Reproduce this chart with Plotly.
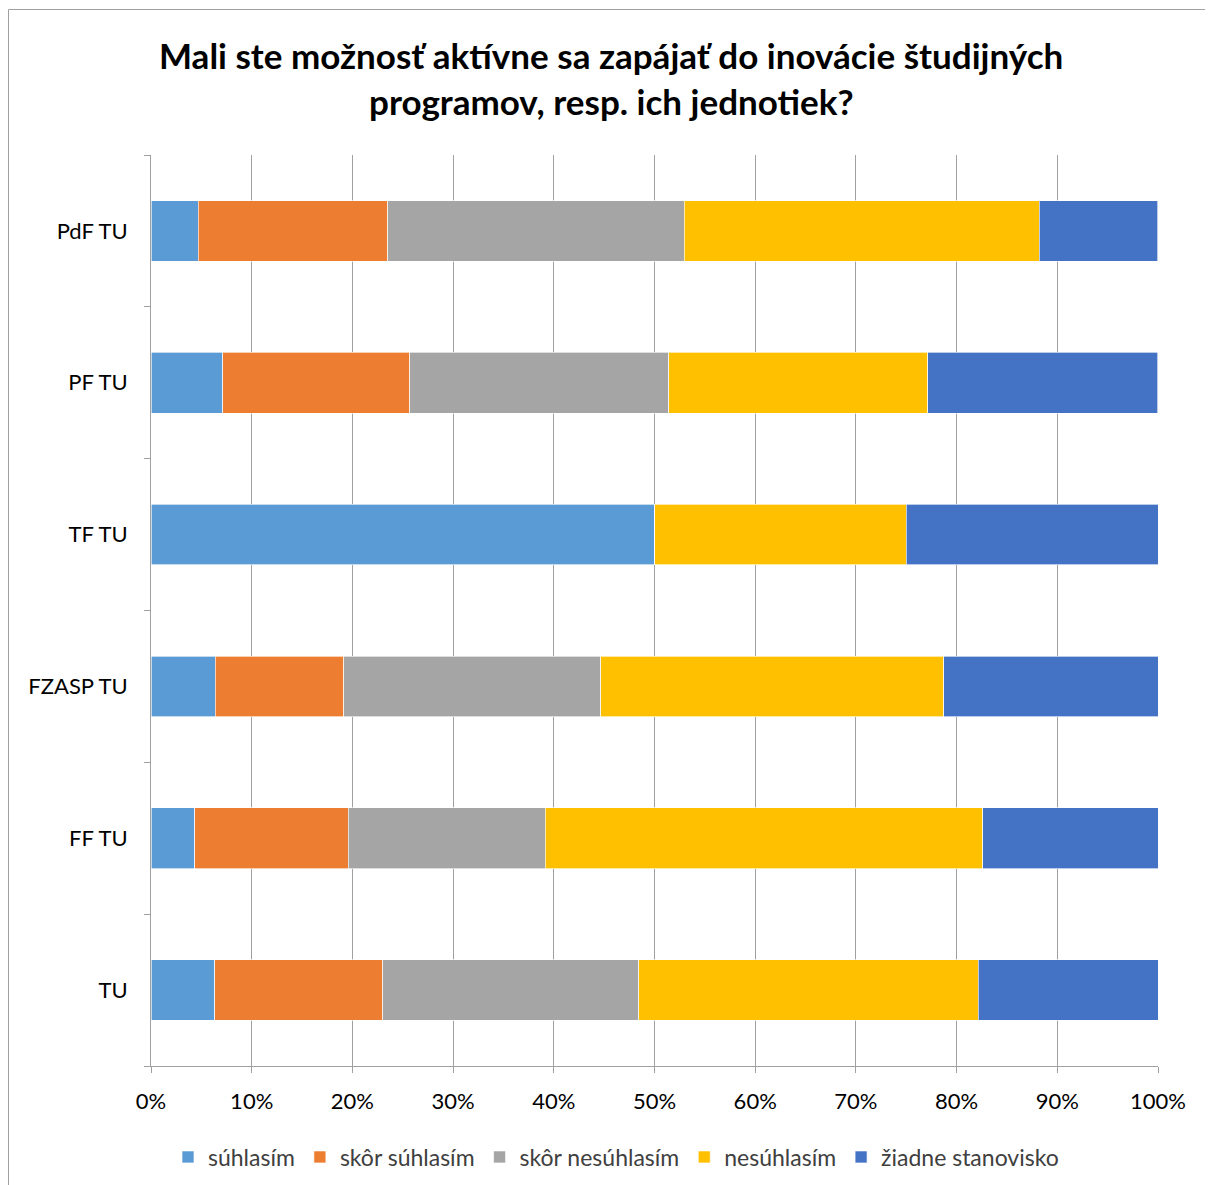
import plotly.graph_objects as go

categories = ["PdF TU", "PF TU", "TF TU", "FZASP TU", "FF TU", "TU"]
series_names = ["súhlasím", "skôr súhlasím", "skôr nesúhlasím", "nesúhlasím", "žiadne stanovisko"]
suhlasim = [4.71, 7.14, 50.0, 6.38, 4.35, 6.35]
skor_suhlasim = [18.82, 18.57, 0.0, 12.77, 15.22, 16.67]
skor_nesuhlasim = [29.41, 25.71, 0.0, 25.53, 19.57, 25.40]
nesuhlasim = [35.29, 25.71, 25.0, 34.04, 43.48, 33.73]
ziadne = [11.76, 22.86, 25.0, 21.28, 17.39, 17.86]
colors = ["#5B9BD5", "#ED7D31", "#A5A5A5", "#FFC000", "#4472C4"]
x_ticks = [0, 10, 20, 30, 40, 50, 60, 70, 80, 90, 100]
x_tick_labels = [f"{v}%" for v in x_ticks]

values = [suhlasim, skor_suhlasim, skor_nesuhlasim, nesuhlasim, ziadne]

FONT = "Lato"

fig = go.Figure()
for name, vals, col in zip(series_names, values, colors):
    fig.add_trace(go.Bar(
        y=categories, x=vals, name=name, orientation="h",
        marker=dict(color=col, line=dict(color="rgba(255,255,255,0.8)", width=0.8)),
    ))

OFF = 8  # page body margin
W, H = 1205, 1177
L, T = 143, 147
R = W - (1158 - OFF)
B = H - (1066 - OFF)
pw = W - L - R
ph = H - T - B

def px_x(p):
    return (p - OFF - L) / pw

def px_y(p):
    return (H - B - (p - OFF)) / ph

fig.update_layout(
    width=W, height=H,
    barmode="stack",
    bargap=0.6,
    plot_bgcolor="white",
    paper_bgcolor="white",
    margin=dict(l=L, r=R, t=T, b=B, autoexpand=False),
    font=dict(family=FONT, size=22, color="#000000"),
    showlegend=True,
    legend=dict(
        orientation="h", x=px_x(616), xanchor="center",
        y=px_y(1157), yanchor="middle",
        font=dict(family=FONT, size=23, color="#404040"),
        traceorder="normal", itemwidth=30, tracegroupgap=0,
    ),
    xaxis=dict(
        range=[0, 100], tickvals=x_ticks, ticktext=x_tick_labels,
        showgrid=True, gridcolor="#A0A0A0", gridwidth=1,
        showline=True, linecolor="#A0A0A0", linewidth=1,
        ticks="outside", ticklen=6, tickcolor="#A0A0A0",
        zeroline=False, ticklabelstandoff=10,
        tickfont=dict(family=FONT, size=22, color="#000000"),
    ),
    yaxis=dict(
        categoryorder="array", categoryarray=categories[::-1],
        showline=True, linecolor="#A0A0A0", linewidth=1,
        ticks="outside", ticklen=6, tickcolor="#A0A0A0",
        tickson="boundaries", showgrid=False,
        ticklabelstandoff=18,
        tickfont=dict(family=FONT, size=22, color="#000000"),
    ),
)

for line, yy in [("Mali ste možnosť aktívne sa zapájať do inovácie študijných", 55),
                 ("programov, resp. ich jednotiek?", 101)]:
    fig.add_annotation(
        text=line,
        x=px_x(611), y=px_y(yy), xref="paper", yref="paper",
        xanchor="center", yanchor="middle", showarrow=False,
        font=dict(family=FONT, size=35, color="#000000", weight="bold"),
    )

fig.add_shape(
    type="rect", xref="paper", yref="paper",
    x0=px_x(8.5), x1=px_x(1230), y0=px_y(1230), y1=px_y(9.5),
    line=dict(color="#A0A0A0", width=1), fillcolor="rgba(0,0,0,0)", layer="below",
)

fig.write_html("out.html")
